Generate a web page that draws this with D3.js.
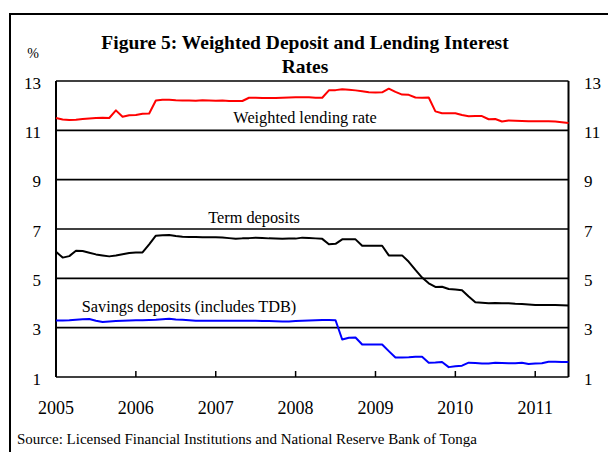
<!DOCTYPE html>
<html>
<head>
<meta charset="utf-8">
<script src="https://cdn.jsdelivr.net/npm/d3@7"></script>
<style>
  html, body { margin: 0; padding: 0; background: #fff; }
  svg { display: block; }
  text { font-family: "Liberation Serif", "Times New Roman", serif; fill: #000; }
</style>
</head>
<body>
<svg id="chart" width="608" height="452"></svg>
<script>
// ---- Data (monthly, Jan 2005 .. Jun 2011) ----
const years = ["2005", "2006", "2007", "2008", "2009", "2010", "2011"];
const yTicks = [1, 3, 5, 7, 9, 11, 13];

const lendingRate = [
  11.50, 11.44, 11.42, 11.43, 11.46, 11.48, 11.50, 11.51, 11.50, 11.81,
  11.55, 11.61, 11.62, 11.67, 11.68, 12.21, 12.24, 12.24, 12.22, 12.21,
  12.21, 12.20, 12.22, 12.21, 12.20, 12.21, 12.19, 12.19, 12.19, 12.32,
  12.32, 12.31, 12.31, 12.31, 12.32, 12.33, 12.34, 12.34, 12.34, 12.32,
  12.32, 12.62, 12.63, 12.67, 12.65, 12.62, 12.58, 12.54, 12.53, 12.54,
  12.69, 12.56, 12.45, 12.44, 12.33, 12.32, 12.33, 11.77, 11.69, 11.69,
  11.69, 11.62, 11.57, 11.58, 11.58, 11.45, 11.46, 11.36, 11.40, 11.39,
  11.38, 11.37, 11.37, 11.37, 11.37, 11.36, 11.33, 11.30
];

const termDeposits = [
  6.08, 5.84, 5.90, 6.12, 6.11, 6.04, 5.97, 5.93, 5.89, 5.93,
  5.98, 6.03, 6.05, 6.05, 6.38, 6.73, 6.75, 6.76, 6.72, 6.69,
  6.68, 6.68, 6.67, 6.67, 6.67, 6.66, 6.63, 6.60, 6.62, 6.63,
  6.65, 6.64, 6.62, 6.61, 6.60, 6.61, 6.61, 6.65, 6.64, 6.62,
  6.60, 6.38, 6.40, 6.58, 6.58, 6.58, 6.32, 6.32, 6.32, 6.32,
  5.93, 5.93, 5.93, 5.67, 5.34, 5.03, 4.80, 4.65, 4.66, 4.57,
  4.55, 4.52, 4.26, 4.03, 4.01, 3.99, 4.00, 3.99, 3.99, 3.97,
  3.96, 3.94, 3.92, 3.92, 3.92, 3.92, 3.91, 3.90
];

const savingsDeposits = [
  3.29, 3.29, 3.30, 3.32, 3.34, 3.35, 3.28, 3.23, 3.25, 3.27,
  3.28, 3.29, 3.30, 3.30, 3.31, 3.32, 3.34, 3.36, 3.33, 3.32,
  3.30, 3.28, 3.28, 3.28, 3.28, 3.28, 3.28, 3.28, 3.28, 3.28,
  3.28, 3.27, 3.27, 3.26, 3.25, 3.25, 3.27, 3.28, 3.29, 3.30,
  3.31, 3.31, 3.30, 2.52, 2.59, 2.60, 2.32, 2.32, 2.32, 2.32,
  2.05, 1.79, 1.79, 1.80, 1.82, 1.82, 1.58, 1.59, 1.61, 1.40,
  1.44, 1.46, 1.58, 1.57, 1.55, 1.55, 1.58, 1.57, 1.56, 1.56,
  1.58, 1.53, 1.55, 1.56, 1.62, 1.62, 1.61, 1.61
];

const seriesLabels = ["Weighted lending rate", "Term deposits", "Savings deposits (includes TDB)"];
const titleLines = ["Figure 5: Weighted Deposit and Lending Interest", "Rates"];
const sourceText = "Source: Licensed Financial Institutions and National Reserve Bank of Tonga";

// ---- Drawing ----
const svg = d3.select("#chart");
const plotLeft = 56, plotRight = 568.5, plotTop = 81, plotBottom = 377;

const x = d3.scaleLinear().domain([0, 77]).range([plotLeft, plotRight]);
const y = d3.scaleLinear().domain([1, 13]).range([plotBottom, plotTop]);

// outer frame
svg.append("rect")
  .attr("x", 10).attr("y", 14)
  .attr("width", 640).attr("height", 480)
  .attr("fill", "none").attr("stroke", "#000").attr("stroke-width", 2);

// title
svg.append("text")
  .attr("x", 305).attr("y", 49)
  .attr("text-anchor", "middle")
  .attr("font-size", 19.5).attr("font-weight", "bold")
  .text(titleLines[0]);
svg.append("text")
  .attr("x", 305).attr("y", 72.5)
  .attr("text-anchor", "middle")
  .attr("font-size", 19.5).attr("font-weight", "bold")
  .text(titleLines[1]);

// % unit
svg.append("text")
  .attr("x", 33).attr("y", 58)
  .attr("text-anchor", "middle")
  .attr("font-size", 14)
  .text("%");

// gridlines
svg.append("g").selectAll("line")
  .data(yTicks)
  .join("line")
  .attr("x1", plotLeft).attr("x2", plotRight)
  .attr("y1", d => y(d)).attr("y2", d => y(d))
  .attr("stroke", "#000").attr("stroke-width", 1.6);

// left and right axis lines
svg.append("line")
  .attr("x1", plotLeft).attr("x2", plotLeft).attr("y1", y(13)).attr("y2", y(1))
  .attr("stroke", "#000").attr("stroke-width", 2);
svg.append("line")
  .attr("x1", plotRight).attr("x2", plotRight).attr("y1", y(13)).attr("y2", y(1))
  .attr("stroke", "#000").attr("stroke-width", 2);

// y labels (left & right)
svg.append("g").selectAll("text")
  .data(yTicks)
  .join("text")
  .attr("x", 41).attr("y", d => y(d) + 7.5)
  .attr("text-anchor", "end")
  .attr("font-size", 17)
  .text(d => d);
svg.append("g").selectAll("text")
  .data(yTicks)
  .join("text")
  .attr("x", 584).attr("y", d => y(d) + 7.5)
  .attr("text-anchor", "start")
  .attr("font-size", 17)
  .text(d => d);

// x ticks & labels
svg.append("g").selectAll("line")
  .data(years)
  .join("line")
  .attr("x1", (d, i) => x(i * 12)).attr("x2", (d, i) => x(i * 12))
  .attr("y1", plotBottom).attr("y2", plotBottom - 6)
  .attr("stroke", "#000").attr("stroke-width", 1.5);
svg.append("g").selectAll("text")
  .data(years)
  .join("text")
  .attr("x", (d, i) => x(i * 12)).attr("y", 414)
  .attr("text-anchor", "middle")
  .attr("font-size", 18)
  .text(d => d);

// lines
const line = d3.line().x((d, i) => x(i)).y(d => y(d));
const series = [
  { values: lendingRate, color: "#ff0000" },
  { values: termDeposits, color: "#000000" },
  { values: savingsDeposits, color: "#0000ff" }
];
svg.append("g").selectAll("path")
  .data(series)
  .join("path")
  .attr("d", d => line(d.values))
  .attr("fill", "none")
  .attr("stroke", d => d.color)
  .attr("stroke-width", 2)
  .attr("stroke-linejoin", "round");

// series labels
const labelPos = [
  { x: 305, y: 123 },
  { x: 254, y: 222.5 },
  { x: 189, y: 312 }
];
svg.append("g").selectAll("text")
  .data(seriesLabels)
  .join("text")
  .attr("x", (d, i) => labelPos[i].x).attr("y", (d, i) => labelPos[i].y)
  .attr("text-anchor", "middle")
  .attr("font-size", 16.3)
  .text(d => d);

// source
svg.append("text")
  .attr("x", 17).attr("y", 444)
  .attr("font-size", 15)
  .text(sourceText);
</script>
</body>
</html>
